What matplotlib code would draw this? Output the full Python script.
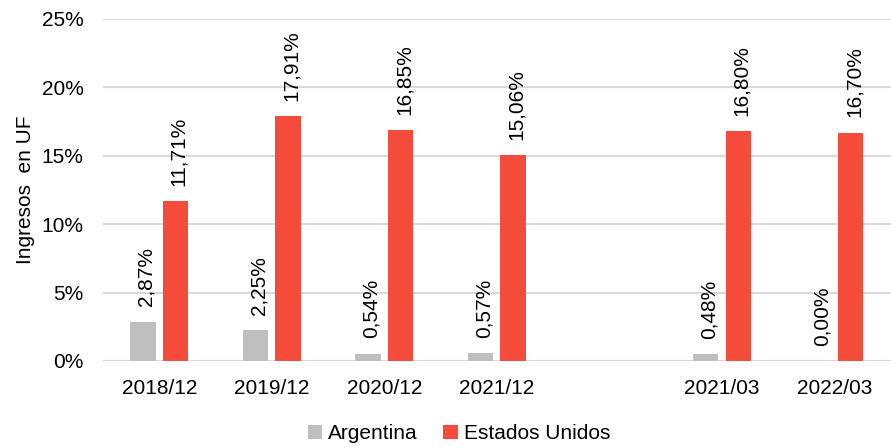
import numpy as np
import matplotlib.pyplot as plt
from matplotlib.ticker import FuncFormatter

plt.rcParams['font.family'] = ['Liberation Sans', 'DejaVu Sans']

periods = ['2018/12', '2019/12', '2020/12', '2021/12', '', '2021/03', '2022/03']
argentina = [2.87, 2.25, 0.54, 0.57, np.nan, 0.48, 0.00]
estados_unidos = [11.71, 17.91, 16.85, 15.06, np.nan, 16.80, 16.70]

gray = '#bfbfbf'
red = '#f44b3a'
grid_col = '#d9d9d9'

fig = plt.figure(figsize=(8.91, 4.47), dpi=100)
ax = fig.add_axes([0.1156, 0.1924, 0.8844, 0.7651])

x = np.arange(len(periods))
w = 0.225
b1 = ax.bar(x - 0.146, np.array(argentina) / 100, w, color=gray, label='Argentina')
b2 = ax.bar(x + 0.143, np.array(estados_unidos) / 100, w, color=red, label='Estados Unidos')

for xs, vals in [(x - 0.146, argentina), (x + 0.143, estados_unidos)]:
    for xi, v in zip(xs, vals):
        if np.isnan(v):
            continue
        ax.annotate(f'{v:.2f}%'.replace('.', ','), (xi + 0.03, v / 100),
                    xytext=(0, 11), textcoords='offset points',
                    rotation=90, ha='center', va='bottom', fontsize=15)

ax.set_xlim(-0.5, len(periods) - 0.5)
ax.set_ylim(0, 0.25)
ax.set_yticks(np.arange(0, 0.2501, 0.05))
ax.yaxis.set_major_formatter(FuncFormatter(lambda v, p: f'{v * 100:.0f}%'))
ax.set_xticks(x)
ax.set_xticklabels(periods)
ax.tick_params(axis='both', length=0, labelsize=15)
ax.tick_params(axis='x', pad=13)
ax.tick_params(axis='y', pad=14)

ax.grid(axis='y', color=grid_col, linewidth=1.5)
ax.set_axisbelow(True)
for s in ax.spines.values():
    s.set_visible(False)

ax.set_ylabel('Ingresos  en UF', fontsize=15, labelpad=5)

fig.legend(handles=[b1, b2], loc='lower center', bbox_to_anchor=(0.515, -0.034),
           ncol=2, frameon=False, fontsize=15, handlelength=0.7, handleheight=0.7,
           handletextpad=0.3, columnspacing=1.2)

fig.savefig('out.png', dpi=100)
